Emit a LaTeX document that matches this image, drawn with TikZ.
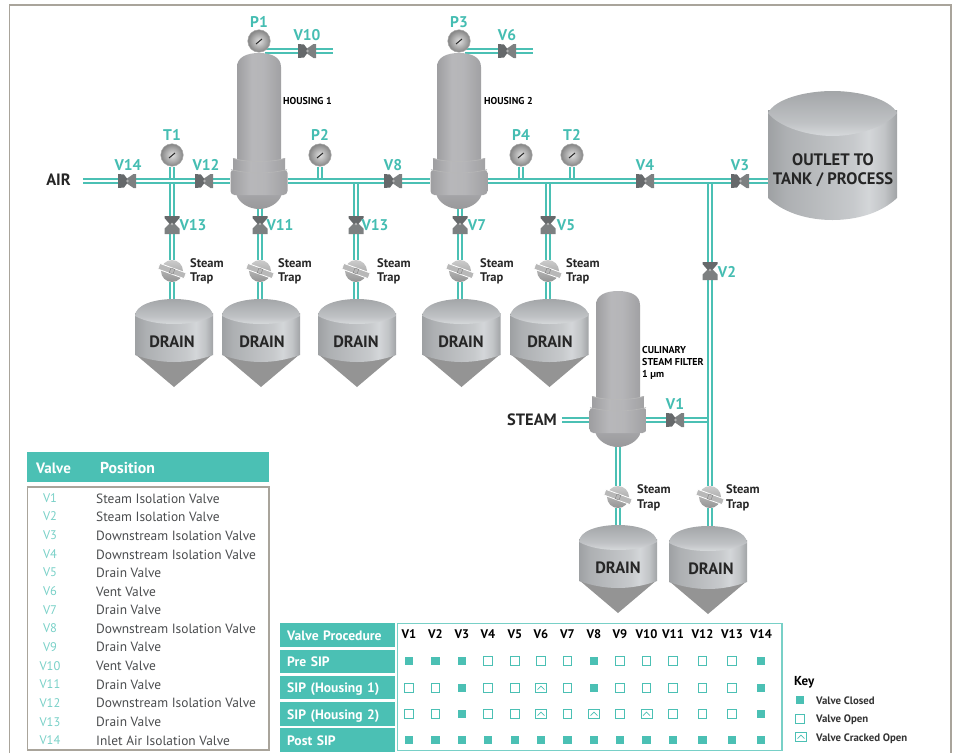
\documentclass[tikz,border=0pt]{standalone}
\usepackage{fontspec}
\setmainfont{PT Sans}
\usetikzlibrary{backgrounds}
\definecolor{tealc}{HTML}{4BC0B4}
\definecolor{tealt}{HTML}{45BDB2}
\definecolor{framec}{HTML}{A9A49B}
\definecolor{valved}{HTML}{66696B}
\definecolor{txt}{HTML}{4A4C4E}
\pgfdeclarehorizontalshading{cylshade}{100bp}{rgb(0bp)=(.62,.63,.64);rgb(25bp)=(.62,.63,.64);rgb(32bp)=(.68,.69,.70);rgb(58bp)=(.78,.79,.80);rgb(64bp)=(.83,.84,.85);rgb(70bp)=(.76,.77,.78);rgb(75bp)=(.63,.64,.65);rgb(100bp)=(.63,.64,.65)}
\pgfdeclarehorizontalshading{bodyshade}{100bp}{rgb(0bp)=(.62,.62,.63);rgb(25bp)=(.62,.62,.63);rgb(42bp)=(.72,.72,.73);rgb(55bp)=(.71,.71,.72);rgb(75bp)=(.63,.63,.64);rgb(100bp)=(.63,.63,.64)}
\pgfdeclareverticalshading{domeshade}{100bp}{rgb(0bp)=(.84,.85,.86);rgb(25bp)=(.84,.85,.86);rgb(40bp)=(.75,.76,.77);rgb(75bp)=(.64,.65,.66);rgb(100bp)=(.64,.65,.66)}
\pgfdeclareverticalshading{bowlshade}{100bp}{rgb(0bp)=(.60,.60,.61);rgb(25bp)=(.60,.60,.61);rgb(50bp)=(.64,.64,.65);rgb(75bp)=(.70,.70,.71);rgb(100bp)=(.70,.70,.71)}
\tikzset{
 pipe/.style={draw=tealc,line width=2.1pt,double=white,double distance=1.4pt},
 frameline/.style={draw=framec,line width=1.4pt},
 lab/.style={text=tealt,font=\fontsize{15.5}{16}\selectfont\bfseries,inner sep=0pt},
 eqlab/.style={text=black!85,font=\fontsize{16.4}{17}\selectfont\bfseries,inner sep=0pt},
 traplab/.style={text=black!85,font=\fontsize{12.5}{14.5}\selectfont\bfseries,inner sep=0pt,align=left,anchor=west},
 smalllab/.style={text=black,font=\fontsize{10}{12}\selectfont\bfseries,inner sep=0pt,align=left,anchor=west},
 valvebox/.style={inner sep=0pt,minimum width=13pt,minimum height=13pt},
 gaugebody/.style={circle,draw=black!35,line width=.5pt,inner sep=0pt,minimum size=22.5pt,shading=radial,inner color=black!12,outer color=black!48},
 housingbox/.style={inner sep=0pt,minimum width=57pt,minimum height=46pt},
 cell/.style={fill=tealc,text=white,inner sep=0pt,anchor=north west,minimum height=23.5pt,text width=114.5pt,align=left,font=\fontsize{13.6}{14}\selectfont\bfseries,text height=12pt,text depth=1.5pt},
 closed/.style={fill=tealc,inner sep=0pt,minimum size=8.5pt},
 openm/.style={fill=white,draw=tealc,line width=1pt,inner sep=0pt,minimum size=8.5pt},
 crackm/.style={fill=white,draw=tealc,line width=.8pt,inner sep=0pt,minimum width=11pt,minimum height=8.5pt},
 rowv/.style={text=tealc!75,font=\fontsize{12.5}{13}\selectfont,inner sep=0pt},
 rowp/.style={text=txt,font=\fontsize{13.4}{14}\selectfont,inner sep=0pt,anchor=west},
 head/.style={text=black,font=\fontsize{12.5}{13}\selectfont\bfseries,inner sep=0pt},
 keylab/.style={text=black!80,font=\fontsize{10.8}{11}\selectfont\bfseries,inner sep=0pt,anchor=west},
}
\newcommand{\ValveH}[2]{%
 \node[valvebox] (#1) at (#2) {};
 \begin{scope}[shift={(#2)}]
  \fill[valved] (-9,-7)--(-3,-6.5)--(0,-2.5)--(0,2.5)--(-3,6.5)--(-9,7)--cycle;
  \fill[valved!85!white] (9,-7)--(6.5,-7)--(0,-2.5)--(0,2.5)--(6.5,7)--(9,7)--cycle;
  \fill[black!30] (.5,0) circle (1.3);
 \end{scope}}
\newcommand{\ValveV}[2]{%
 \node[valvebox] (#1) at (#2) {};
 \begin{scope}[shift={(#2)}]
  \fill[valved] (-7.5,-9)--(7.5,-9)--(7.5,-7)--(1.5,0)--(-1.5,0)--(-7.5,-7)--cycle;
  \fill[valved!85!white] (-7.5,9)--(7.5,9)--(7.5,3.5)--(3,-1)--(-3,-1)--(-7.5,3.5)--cycle;
  \fill[black!30] (0,-1) circle (1.3);
 \end{scope}}
\newcommand{\Gauge}[2]{%
 \node[gaugebody] (#1) at (#2) {};
 \begin{scope}[shift={(#2)}]
  \draw[black!85,line width=1pt] (-3,3)--(3,-2);
 \end{scope}}
\newcommand{\Trap}[2]{%
 \node[circle,inner sep=0pt,minimum size=22pt,shading=axis,top color=black!20,bottom color=black!42] (#1) at (#2) {};
 \begin{scope}[shift={(#2)},rotate=-20]
  \filldraw[fill=black!28,draw=white,line width=.8pt] (-14,-3) rectangle (14,3);
  \draw[black!50,line width=.4pt] (-2,-2.5) rectangle (2,2.5);
 \end{scope}}
% name, pipe x, shape x, top, text x
\newcommand{\Drain}[5]{%
 \coordinate (#1top) at (#2,#4);
 \begin{scope}[shift={(#3,#4)}]
  \fill[black!42] (-39,55)--(0,88)--(39,55)--(0,60)--cycle;
  \path[shading=cylshade] (-39,14) -- (-39,56) .. controls (-25,61) and (-12,63) .. (0,63) .. controls (12,63) and (25,61) .. (39,56) -- (39,14) -- cycle;
  \path[shading=domeshade] (-39,17) .. controls (-39,6) and (-20,0) .. (0,0) .. controls (20,0) and (39,6) .. (39,17) .. controls (28,23) and (14,25) .. (0,25) .. controls (-14,25) and (-28,23) .. (-39,17) -- cycle;
 \end{scope}
 \node[eqlab] (#1) at (#5,#4+42.5) {DRAIN};}
% name, cx, top
\newcommand{\Housing}[3]{%
 \begin{scope}[shift={(#2,#3)}]
  \path[shading=bowlshade] (-22.5,130) -- (-22.5,142) .. controls (-20,150) and (-10,156) .. (0,156) .. controls (10,156) and (20,150) .. (22.5,142) -- (22.5,130) -- cycle;
  \path[shading=bodyshade] (-22,110) -- (-22,14) .. controls (-22,4) and (-12,0) .. (0,0) .. controls (12,0) and (22,4) .. (22,14) -- (22,110) -- cycle;
  \path[shading=bodyshade] (-26,105) .. controls (-12,109) and (12,109) .. (26,105) -- (26,120) -- (-26,120) -- cycle;
  \path[shading=bodyshade,rounded corners=4pt] (-28.5,116) .. controls (-12,121) and (12,121) .. (28.5,116) -- (28.5,142) -- (-28.5,142) -- cycle;
  \draw[black!28,line width=.6pt] (-26,105.5) .. controls (-12,109.5) and (12,109.5) .. (26,105.5);
  \draw[black!28,line width=.6pt] (-28,116.5) .. controls (-12,121) and (12,121) .. (28,116.5);
 \end{scope}
 \node[housingbox] (#1) at (#2,#3+128) {};}
\begin{document}
\begin{tikzpicture}[x=1pt,y=-1pt]
\useasboundingbox (0,0) rectangle (956,753);
\draw[frameline] (9.5,753) -- (9.5,5) -- (951,5) -- (951,753);

% ---------- equipment
\coordinate (airend) at (83,181);
\coordinate (j320) at (320,181);
\coordinate (j356) at (356,181);
\coordinate (j521) at (521,181);
\coordinate (j548) at (548,181);
\coordinate (j572) at (572,181);
\coordinate (j710) at (710,181);
\coordinate (ventA) at (333,51);
\coordinate (ventB) at (533,51);
\coordinate (ventAs) at (265,51);
\coordinate (ventBs) at (465,51);
\coordinate (steamend) at (562,420);
\coordinate (j710b) at (710,420);

\Housing{h1}{259}{53}
\Housing{h2}{459}{53}
\Housing{h3}{618}{291}
% tank
\coordinate (tankL) at (768,181);
\path[shading=cylshade] (768,110) -- (768,198) .. controls (785,214) and (810,220) .. (832.5,220) .. controls (855,220) and (880,214) .. (897,198) -- (897,110) -- cycle;
\path[shading=domeshade] (768,113) .. controls (775,99) and (805,91) .. (832.5,91) .. controls (860,91) and (890,99) .. (897,113) .. controls (885,128) and (855,136) .. (832.5,136) .. controls (810,136) and (780,128) .. (768,113) -- cycle;

\Drain{d1}{172}{174}{299}{172}
\Drain{d2}{260}{261}{299}{262}
\Drain{d3}{356}{357}{299}{356}
\Drain{d4}{460}{461.5}{299}{461}
\Drain{d5}{548}{549.5}{299}{550}
\Drain{d6}{618}{618}{525}{618}
\Drain{d7}{710}{708}{526}{711}

\Gauge{P1}{259,41}
\Gauge{P3}{459,41}
\Gauge{T1}{172,155}
\Gauge{P2}{320,155}
\Gauge{P4}{521,155}
\Gauge{T2}{572,155}

\ValveH{V14}{127,181}
\ValveH{V12}{204,181}
\ValveH{V8}{393,181}
\ValveH{V4}{645,181}
\ValveH{V3}{740,181}
\ValveH{V10}{307,51}
\ValveH{V6}{507,51}
\ValveH{V1}{675,420}
\ValveV{V13a}{172,225}
\ValveV{V11}{260,225}
\ValveV{V13b}{356,225}
\ValveV{V7}{460,225}
\ValveV{V5}{548,225}
\ValveV{V2}{710,271}

\Trap{t1}{172,271}
\Trap{t2}{260,271}
\Trap{t3}{356,271}
\Trap{t4}{460,271}
\Trap{t5}{548,271}
\Trap{t6}{618,497}
\Trap{t7}{710,497}

% ---------- pipes
\begin{pgfonlayer}{background}
 \draw[pipe] (steamend) -- (h3 |- steamend);
 \draw[pipe] (h3 |- j710b) -- (V1);
 \draw[pipe] (V1) -- (j710b);
 \draw[pipe] (T1) -- (V13a);
 \draw[pipe] (V13a) -- (t1);
 \draw[pipe] (t1) -- (d1top);
 \draw[pipe] (h1.south -| V11) -- (V11);
 \draw[pipe] (V11) -- (t2);
 \draw[pipe] (t2) -- (d2top);
 \draw[pipe] (j356) -- (V13b);
 \draw[pipe] (V13b) -- (t3);
 \draw[pipe] (t3) -- (d3top);
 \draw[pipe] (h2.south -| V7) -- (V7);
 \draw[pipe] (V7) -- (t4);
 \draw[pipe] (t4) -- (d4top);
 \draw[pipe] (j548) -- (V5);
 \draw[pipe] (V5) -- (t5);
 \draw[pipe] (t5) -- (d5top);
 \draw[pipe] (h3) -- (t6);
 \draw[pipe] (t6) -- (d6top);
 \draw[pipe] (j710) -- (V2);
 \draw[pipe] (V2) -- (t7);
 \draw[pipe] (t7) -- (d7top);
 \draw[pipe] (P2) -- (j320);
 \draw[pipe] (P4) -- (j521);
 \draw[pipe] (T2) -- (j572);
 \draw[pipe] (airend) -- (V14);
 \draw[pipe] (V14) -- (V12);
 \draw[pipe] (V12) -- (h1);
 \draw[pipe] (h1) -- (V8);
 \draw[pipe] (V8) -- (h2);
 \draw[pipe] (h2) -- (V4);
 \draw[pipe] (V4) -- (V3);
 \draw[pipe] (V3) -- (tankL);
 \draw[pipe] (ventAs) -- (V10);
 \draw[pipe] (V10) -- (ventA);
 \draw[pipe] (ventBs) -- (V6);
 \draw[pipe] (V6) -- (ventB);
\end{pgfonlayer}

% ---------- labels
\node[lab] (lP1) at (259,22) {P1};
\node[lab] (lP3) at (459,22) {P3};
\node[lab] (lV10) at (307,35) {V10};
\node[lab] (lV6) at (507,35) {V6};
\node[lab] (lT1) at (172,135) {T1};
\node[lab] (lP2) at (320,135) {P2};
\node[lab] (lP4) at (521,135) {P4};
\node[lab] (lT2) at (572,135) {T2};
\node[lab] (lV14) at (128,165) {V14};
\node[lab] (lV12) at (206,165) {V12};
\node[lab] (lV8) at (393,165) {V8};
\node[lab] (lV4) at (645,165) {V4};
\node[lab] (lV3) at (740,165) {V3};
\node[lab] (lV13a) at (193,225) {V13};
\node[lab] (lV11) at (280,225) {V11};
\node[lab] (lV13b) at (375,225) {V13};
\node[lab] (lV7) at (477,225) {V7};
\node[lab] (lV5) at (566,225) {V5};
\node[lab] (lV2) at (727,272) {V2};
\node[lab] (lV1) at (675,404) {V1};
\node[eqlab] (air) at (58.5,180) {AIR};
\node[eqlab] (steam) at (532,420) {STEAM};
\node[smalllab] (hl1) at (283,101) {HOUSING 1};
\node[smalllab] (hl2) at (484,101) {HOUSING 2};
\node[smalllab] (hl3) at (642,362.5) {CULINARY\\STEAM FILTER\\1 µm};
\node[eqlab,align=center,font=\fontsize{16.6}{18.5}\selectfont\bfseries] (tanklab) at (833,170) {OUTLET TO\\TANK / PROCESS};
\node[traplab] (s1) at (190,271.5) {Steam\\Trap};
\node[traplab] (s2) at (278,271.5) {Steam\\Trap};
\node[traplab] (s3) at (377,271.5) {Steam\\Trap};
\node[traplab] (s4) at (480,271.5) {Steam\\Trap};
\node[traplab] (s5) at (566,271.5) {Steam\\Trap};
\node[traplab] (s6) at (637,498) {Steam\\Trap};
\node[traplab] (s7) at (726,498) {Steam\\Trap};

% ---------- valve position table
\node[fill=tealc,inner sep=0pt,minimum width=242pt,minimum height=30pt,anchor=north west] (thead) at (27,452) {};
\node[text=white,font=\fontsize{15}{15}\selectfont,inner sep=0pt,anchor=west] (thv) at (36,468) {\bfseries Valve};
\node[text=white,font=\fontsize{15.8}{15}\selectfont,inner sep=0pt,anchor=west] (thp) at (100,468) {\bfseries Position};
\draw[draw=framec,line width=1.2pt] (27.5,487) rectangle (269,750);
\foreach \y/\v/\p [count=\i] in {498.5/V1/Steam Isolation Valve,516.5/V2/Steam Isolation Valve,535.5/V3/Downstream Isolation Valve,554.5/V4/Downstream Isolation Valve,572.5/V5/Drain Valve,591.5/V6/Vent Valve,610/V7/Drain Valve,628.5/V8/Downstream Isolation Valve,647/V9/Drain Valve,666/V10/Vent Valve,684.5/V11/Drain Valve,703/V12/Downstream Isolation Valve,722/V13/Drain Valve,740.5/V14/Inlet Air Isolation Valve}{
 \node[rowv] (rv\i) at (50,\y) {\v};
 \node[rowp] (rp\i) at (96,\y) {\p};
}

% ---------- procedure table
\node[cell] (c0) at (280,623) {\hspace*{7pt}Valve Procedure};
\node[cell] (c1) at (280,649.5) {\hspace*{7pt}Pre SIP};
\node[cell] (c2) at (280,675.5) {\hspace*{7pt}SIP (Housing 1)};
\node[cell] (c3) at (280,702) {\hspace*{7pt}SIP (Housing 2)};
\node[cell] (c4) at (280,728) {\hspace*{7pt}Post SIP};
\draw[draw=tealc!75,line width=1.1pt] (397.5,623.5) rectangle (782,750.5);
\foreach \x/\v in {409/V1,435.5/V2,462/V3,488/V4,515/V5,541/V6,567.5/V7,594/V8,620/V9,646.5/V10,673/V11,702.5/V12,732/V13,761/V14}{
 \node[head] (hd\v) at (\x,634) {\v};
}
\newcommand{\MkC}[2]{\node[closed] (#1) at (#2) {};}
\newcommand{\MkO}[2]{\node[openm] (#1) at (#2) {};}
\newcommand{\MkK}[2]{\node[crackm] (#1) at (#2) {};
 \begin{scope}[shift={(#2)}]\draw[tealc,line width=.7pt] (-3.5,1.5)--(0,-1.8)--(3.5,1.5);\end{scope}}
\foreach \x/\a/\b/\c/\d [count=\i] in {409/C/O/O/C,435.5/C/O/O/C,462/C/C/C/C,488/O/O/O/C,515/O/O/O/C,541/O/K/K/C,567.5/O/O/O/C,594/C/C/K/C,620/O/O/O/C,646.5/O/O/K/C,673/O/O/O/C,702.5/O/O/O/C,732/O/O/O/C,761/C/C/C/C}{
 \csname Mk\a\endcsname{m1x\i}{\x,661}
 \csname Mk\b\endcsname{m2x\i}{\x,688}
 \csname Mk\c\endcsname{m3x\i}{\x,714}
 \csname Mk\d\endcsname{m4x\i}{\x,740}
}
% ---------- key
\node[text=black,font=\fontsize{13}{13}\selectfont\bfseries,inner sep=0pt,anchor=west] (keyt) at (794,682) {Key};
\MkC{k1}{800,700}
\MkO{k2}{800,719}
\MkK{k3}{801,737}
\node[keylab] (kl1) at (816,700.5) {Valve Closed};
\node[keylab] (kl2) at (816,719.5) {Valve Open};
\node[keylab] (kl3) at (816,738.5) {Valve Cracked Open};
\end{tikzpicture}
\end{document}
